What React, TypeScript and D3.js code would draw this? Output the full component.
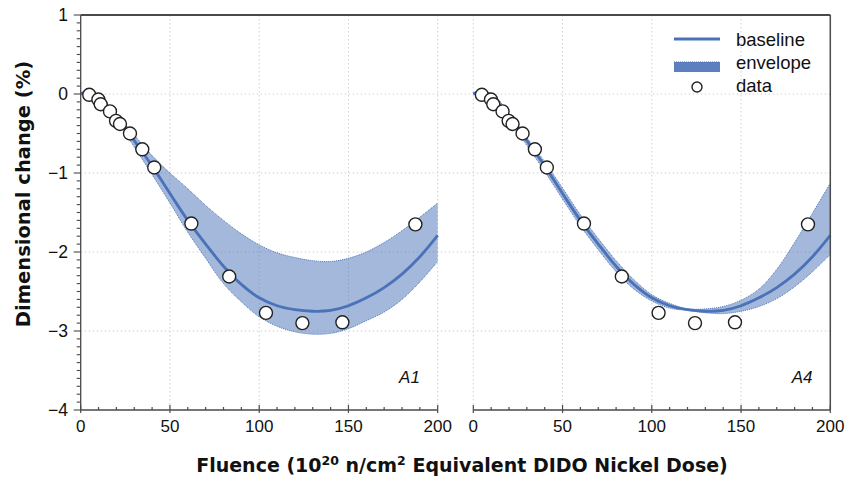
import React from "react";
import * as d3 from "d3";

// data
const dataX = [4.8, 9.9, 11.2, 16.4, 19.8, 22, 27.6, 34.5, 41.2, 62, 83.2, 103.8, 124.2, 146.6, 187.5];
const dataY = [-0.01, -0.07, -0.13, -0.22, -0.34, -0.38, -0.5, -0.7, -0.93, -1.64, -2.31, -2.77, -2.9, -2.89, -1.65];

const baseX = [0, 5, 10, 15, 20, 25, 30, 35, 40, 50, 60, 70, 80, 90, 100, 110, 120, 130, 140, 150, 160, 170, 180, 190, 200];
const baseY = [0, 0.04, -0.03, -0.15, -0.29, -0.44, -0.59, -0.75, -0.91, -1.26, -1.6, -1.9, -2.18, -2.41, -2.58, -2.68, -2.73, -2.75, -2.74, -2.68, -2.58, -2.45, -2.28, -2.06, -1.79];

const envX = [0, 10, 20, 30, 40, 50, 60, 70, 80, 90, 100, 110, 120, 130, 140, 150, 160, 170, 180, 190, 200];
const a1Upper = [0, -0.02, -0.26, -0.52, -0.78, -1.0, -1.2, -1.41, -1.6, -1.77, -1.91, -2.01, -2.07, -2.11, -2.12, -2.08, -2.0, -1.88, -1.73, -1.56, -1.38];
const a1Lower = [0, -0.05, -0.33, -0.67, -1.02, -1.38, -1.75, -2.08, -2.4, -2.63, -2.82, -2.94, -3.01, -3.04, -3.03, -2.97, -2.87, -2.76, -2.6, -2.38, -2.12];
const a4Upper = [0.02, 0.01, -0.25, -0.55, -0.86, -1.19, -1.53, -1.83, -2.11, -2.35, -2.54, -2.65, -2.72, -2.72, -2.69, -2.61, -2.47, -2.22, -1.88, -1.51, -1.13];
const a4Lower = [0, -0.06, -0.34, -0.65, -0.98, -1.33, -1.67, -1.97, -2.25, -2.47, -2.62, -2.71, -2.74, -2.77, -2.78, -2.75, -2.69, -2.59, -2.44, -2.25, -2.03];

const xTicks = [0, 50, 100, 150, 200];
const yTicks = [1, 0, -1, -2, -3, -4];
const panels = [
  { name: "A1", left: 80.7, upper: a1Upper, lower: a1Lower },
  { name: "A4", left: 473.3, upper: a4Upper, lower: a4Lower },
];

const W = 846, H = 481;
const top = 15, bottom = 410, panelW = 357;
const blue = "#4a72b8";
const axisCol = "#4a4a4a";
const font = "'Liberation Sans', Arial, Helvetica, sans-serif";
const boldFont = "'DejaVu Sans', 'Liberation Sans', sans-serif";

const y = d3.scaleLinear().domain([-4, 1]).range([bottom, top]);
const fmt = (v: number) => (v < 0 ? "\u2212" + Math.abs(v) : String(v));
const smooth = d3.curveCatmullRom.alpha(0.5);

export default function App() {
  const gridLeft = panels[0].left;
  const gridRight = panels[1].left + panelW;
  return (
    <svg width={W} height={H} style={{ position: "absolute", left: 0, top: 0, background: "#fff" }} fontFamily={font}>
      {/* horizontal grid */}
      {yTicks.slice(1, -1).map((t) => (
        <line key={t} x1={gridLeft} x2={gridRight} y1={y(t)} y2={y(t)} stroke="#cfcfcf" strokeDasharray="1.5,2.5" />
      ))}
      {panels.map((p) => {
        const x = d3.scaleLinear().domain([0, 200]).range([p.left, p.left + panelW]);
        const band = d3
          .area<number>()
          .x((_, i) => x(envX[i]))
          .y0((_, i) => y(p.lower[i]))
          .y1((_, i) => y(p.upper[i]))
          .curve(smooth);
        const edge = (arr: number[]) =>
          d3
            .line<number>()
            .x((_, i) => x(envX[i]))
            .y((d) => y(d))
            .curve(smooth)(arr) || "";
        const base = d3
          .line<number>()
          .x((_, i) => x(baseX[i]))
          .y((d) => y(d))
          .curve(smooth)(baseY) || "";
        const minor = d3.range(0, 201, 10);
        return (
          <g key={p.name}>
            {xTicks.map((t) => (
              <line key={t} x1={x(t)} x2={x(t)} y1={top} y2={bottom} stroke="#cfcfcf" strokeDasharray="1.5,2.5" />
            ))}
            <path d={band(p.upper) || ""} fill={blue} fillOpacity={0.5} />
            <path d={edge(p.upper)} fill="none" stroke={blue} strokeWidth={1} strokeDasharray="1,1" />
            <path d={edge(p.lower)} fill="none" stroke={blue} strokeWidth={1} strokeDasharray="1,1" />
            <path d={base} fill="none" stroke={blue} strokeWidth={2.8} />
            {dataX.map((dx, i) => (
              <circle key={i} cx={x(dx)} cy={y(dataY[i])} r={6.5} fill="#fff" stroke="#222" strokeWidth={1.4} />
            ))}
            {/* x axis */}
            <line x1={x(0)} x2={x(200)} y1={bottom} y2={bottom} stroke={axisCol} strokeWidth={1.3} />
            {minor.map((t) => (
              <line key={t} x1={x(t)} x2={x(t)} y1={bottom - (t % 50 === 0 ? 5 : 3)} y2={bottom + (t % 50 === 0 ? 3 : 0)} stroke={axisCol} strokeWidth={1.2} />
            ))}
            {xTicks.map((t) => (
              <text key={t} x={x(t)} y={432} textAnchor="middle" fontSize={17} fill="#111">
                {t}
              </text>
            ))}
            <text x={x(190)} y={383} textAnchor="end" fontSize={17} fontStyle="italic" fill="#111">
              {p.name}
            </text>
          </g>
        );
      })}
      {/* frame */}
      <line x1={gridLeft} x2={gridRight} y1={top} y2={top} stroke={axisCol} strokeWidth={1.8} />
      <line x1={gridRight} x2={gridRight} y1={top} y2={bottom} stroke={axisCol} strokeWidth={1.5} />
      <line x1={gridLeft} x2={gridLeft} y1={top} y2={bottom} stroke={axisCol} strokeWidth={1.3} />
      {d3.range(-40, 11, 1).map((k) => (
        <line key={k} x1={gridLeft - (k % 10 === 0 ? 7 : 4)} x2={gridLeft} y1={y(k / 10)} y2={y(k / 10)} stroke={axisCol} strokeWidth={1.1} />
      ))}
      {yTicks.map((t) => (
        <text key={t} x={68} y={y(t) + 6} textAnchor="end" fontSize={17.5} fill="#111">
          {fmt(t)}
        </text>
      ))}
      <text transform="translate(30,194) rotate(-90)" textAnchor="middle" fontFamily={boldFont} fontSize={19.5} fontWeight="bold" fill="#111">
        Dimensional change (%)
      </text>
      <text x={462} y={472} textAnchor="middle" fontFamily={boldFont} fontSize={19} fontWeight="bold" fill="#111">
        Fluence (10<tspan dy={-7} fontSize={12.5}>20</tspan>
        <tspan dy={7}> n/cm</tspan>
        <tspan dy={-7} fontSize={12.5}>2</tspan>
        <tspan dy={7}> Equivalent DIDO Nickel Dose)</tspan>
      </text>
      {/* legend */}
      <g fontSize={18.5} fill="#111">
        <line x1={674} x2={720} y1={39} y2={39} stroke={blue} strokeWidth={2.8} />
        <text x={736} y={46}>baseline</text>
        <rect x={674} y={62} width={46} height={10} fill={blue} fillOpacity={0.9} />
        <line x1={674} x2={720} y1={62} y2={62} stroke={blue} strokeDasharray="1,1" />
        <text x={736} y={69}>envelope</text>
        <circle cx={697} cy={87} r={5} fill="#fff" stroke="#222" strokeWidth={1.4} />
        <text x={736} y={92}>data</text>
      </g>
    </svg>
  );
}
